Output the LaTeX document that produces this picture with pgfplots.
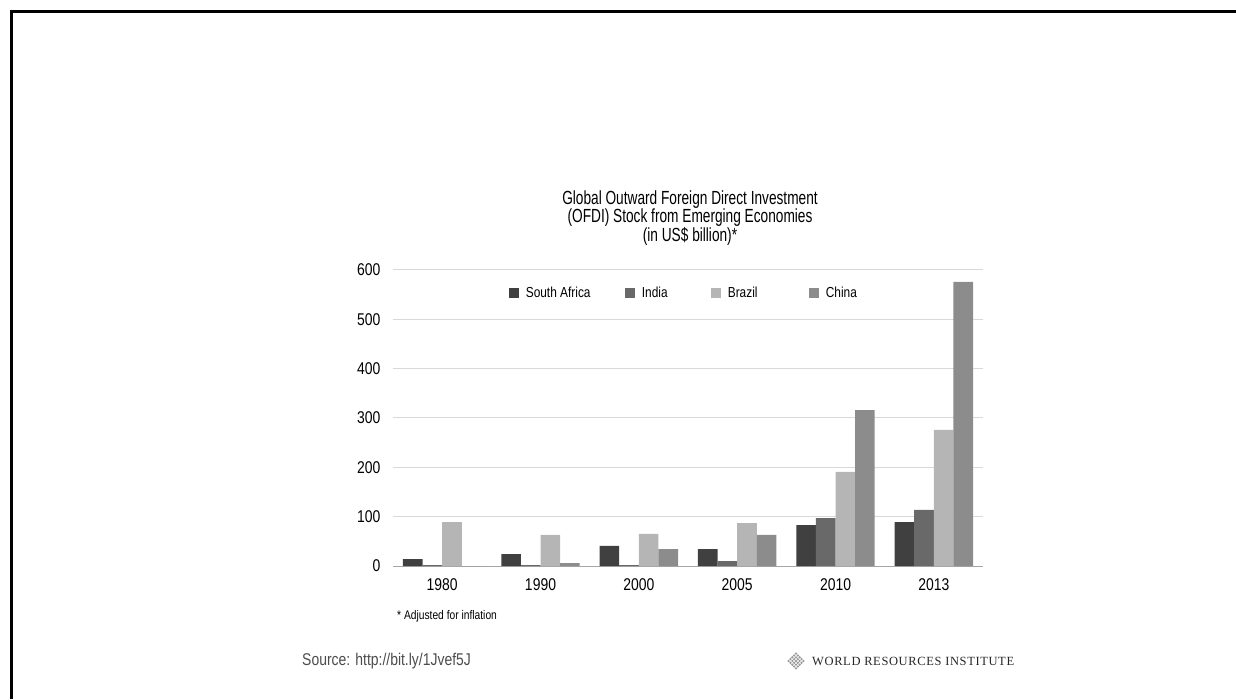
\documentclass[border=0pt]{standalone}
\usepackage{fontspec}
\setmainfont{Liberation Sans}[FakeStretch=0.82]
\newfontfamily\cond{Liberation Sans}[FakeStretch=0.72]
\newfontfamily\wri{Liberation Serif}[LetterSpace=5]
\usepackage{pgfplots}
\pgfplotsset{compat=1.18}
\definecolor{csa}{HTML}{404040}
\definecolor{cin}{HTML}{696969}
\definecolor{cbr}{HTML}{B5B5B5}
\definecolor{ccn}{HTML}{8C8C8C}
\definecolor{cgrid}{HTML}{D9D9D9}
\begin{document}
\begin{tikzpicture}[x=1pt,y=1pt]
\path[use as bounding box] (0,0) rectangle (1236,699);
\draw[line width=3pt] (11.5,0) -- (11.5,687.5) -- (1236,687.5);
\begin{axis}[
  at={(393pt,133pt)}, anchor=south west,
  scale only axis, width=590pt, height=296pt,
  xmin=-0.5, xmax=5.5, ymin=0, ymax=600,
  ybar=0pt, bar width=19.6pt,
  xtick={0,1,2,3,4,5},
  xticklabels={1980,1990,2000,2005,2010,2013},
  ytick={0,100,200,300,400,500,600},
  major tick length=0pt,
  axis line style={draw=none},
  ymajorgrids, grid style={cgrid, line width=1pt},
  /pgf/number format/assume math mode=true,
  tick label style={font=\fontsize{17}{19}\selectfont},
  yticklabel style={xshift=-9pt},
  xticklabel style={yshift=-9pt},
  legend columns=4,
  legend style={draw=none, fill=none, at={(0.493,0.922)}, anchor=center,
    font=\fontsize{14.5}{16}\selectfont,
    /tikz/every odd column/.append style={column sep=5pt},
    /tikz/every even column/.append style={column sep=32pt}},
  legend image code/.code={\fill[#1] (0pt,-5pt) rectangle (10pt,5pt);},
  extra y ticks={0}, extra y tick labels={},
  extra y tick style={grid style={color=black!35, line width=1pt}},
]
\addplot[fill=csa, draw=none] coordinates {(0,14) (1,24) (2,41) (3,34) (4,83) (5,89)};
\addplot[fill=cin, draw=none] coordinates {(0,2) (1,2) (2,2) (3,10) (4,97) (5,114)};
\addplot[fill=cbr, draw=none] coordinates {(0,89) (1,63) (2,65) (3,87) (4,191) (5,276)};
\addplot[fill=ccn, draw=none] coordinates {(0,0) (1,6) (2,34) (3,63) (4,316) (5,576)};
\legend{\makebox[65pt][l]{South Africa}, \makebox[35pt][l]{India}, \makebox[47pt][l]{Brazil}, China}
\end{axis}
\node[align=center, font=\cond\fontsize{19}{18.5}\selectfont] at (690,481) {Global Outward Foreign Direct Investment\\(OFDI) Stock from Emerging Economies\\(in US\$ billion)*};
\node[anchor=west, font=\fontsize{12.5}{14}\selectfont, inner sep=0pt] at (397,83) {* Adjusted for inflation};
\node[anchor=west, font=\fontsize{17}{19}\selectfont, text=black!70, inner sep=0pt] at (302,38) {Source: http://bit.ly/1Jvef5J};
\node[anchor=west, font=\wri\fontsize{12.5}{15}\selectfont, text=black!85, inner sep=0pt] at (812,38) {WORLD RESOURCES INSTITUTE};
\begin{scope}[rotate around={45:(796,38)}]
\foreach \i in {-2,...,2}{\foreach \j in {-2,...,2}{
  \fill[black!40] (796+\i*2.6-0.9, 38+\j*2.6-0.9) rectangle ++(1.8,1.8);
}}
\end{scope}
\end{tikzpicture}
\end{document}
